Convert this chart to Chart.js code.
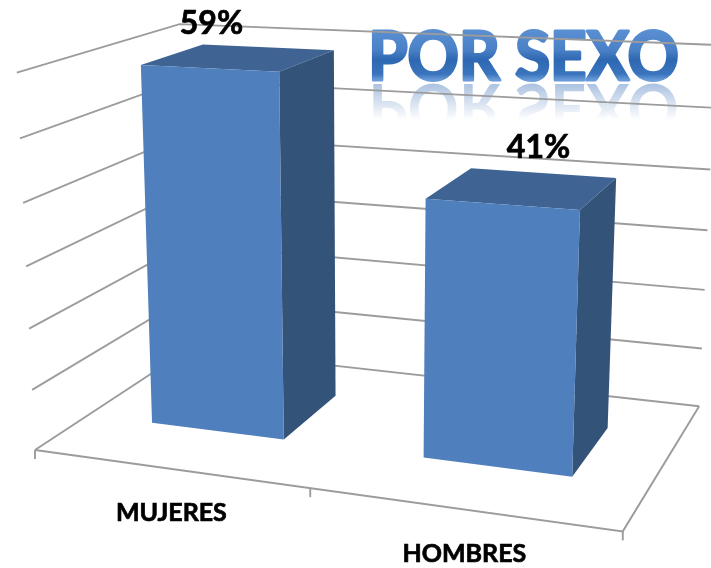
<!DOCTYPE html>
<html>
<head>
<meta charset="utf-8">
<style>
  html, body { margin: 0; padding: 0; background: #fff; }
  canvas { display: block; }
</style>
<script src="https://cdn.jsdelivr.net/npm/chart.js@4"></script>
</head>
<body>
<canvas id="chart" width="711" height="568"></canvas>
<script>
const categories = ["MUJERES", "HOMBRES"];
const porcentajes = [59, 41];
const axisMax = 60;
const axisStep = 10;
const titulo = "POR SEXO";

// perspective camera, fitted by eye to the picture: origin + vanishing points
const origin = [35, 450];
const vanishX = [-4300, -150];
const vanishY = [370, 7400];
const vanishZ = [1100, -250];
const weightX = -0.1194;
const weightY = -0.0515;
const weightZ = 0.1678;

// bars sit between these depths of the floor
const barFront = 0.318;
const barBack = 0.725;

const project = (X, Y, Z) => {
  const u = weightX * X;
  const v = weightY * Y;
  const w = weightZ * Z;
  const d = 1 + u + v + w;
  return [
    (origin[0] + u * vanishX[0] + v * vanishY[0] + w * vanishZ[0]) / d,
    (origin[1] + u * vanishX[1] + v * vanishY[1] + w * vanishZ[1]) / d,
  ];
};

const polygon = (ctx, points, color) => {
  ctx.beginPath();
  points.forEach((p, i) => (i ? ctx.lineTo(p[0], p[1]) : ctx.moveTo(p[0], p[1])));
  ctx.closePath();
  ctx.fillStyle = color;
  ctx.fill();
};

const polyline = (ctx, points) => {
  ctx.beginPath();
  points.forEach((p, i) => (i ? ctx.lineTo(p[0], p[1]) : ctx.moveTo(p[0], p[1])));
  ctx.stroke();
};

// calibri-ish bold: lato is a bit light, so thicken it with a thin stroke
const boldText = (ctx, text, x, y, font) => {
  ctx.font = font;
  ctx.fillStyle = "#000";
  ctx.strokeStyle = "#000";
  ctx.lineWidth = 0.7;
  ctx.textAlign = "center";
  ctx.textBaseline = "alphabetic";
  ctx.fillText(text, x, y);
  ctx.strokeText(text, x, y);
};

const drawTitle = (ctx) => {
  const cx = 523.5;
  const base = 80;
  const squeeze = 0.963;
  ctx.save();
  ctx.font = "bold 66px Lato";
  ctx.textAlign = "center";
  ctx.textBaseline = "alphabetic";
  ctx.lineJoin = "round";

  // reflection under the word art, text is flipped so the fade runs up in local space
  ctx.save();
  ctx.translate(cx, base + 4);
  ctx.scale(squeeze, -1);
  const fade = ctx.createLinearGradient(0, 0, 0, -36);
  fade.addColorStop(0, "rgba(90, 135, 195, 0.5)");
  fade.addColorStop(1, "rgba(90, 135, 195, 0)");
  ctx.fillStyle = fade;
  ctx.fillText(titulo, 0, 0);
  ctx.restore();

  ctx.translate(cx, base);
  ctx.scale(squeeze, 1);
  const fill = ctx.createLinearGradient(0, -50, 0, 0);
  fill.addColorStop(0, "#5a8fd2");
  fill.addColorStop(0.4, "#4a80c6");
  fill.addColorStop(0.6, "#2e68b2");
  fill.addColorStop(0.88, "#3a74bd");
  fill.addColorStop(1, "#6a9bd8");
  ctx.strokeStyle = fill;
  ctx.lineWidth = 3;
  ctx.strokeText(titulo, 0, 0);
  ctx.fillStyle = fill;
  ctx.fillText(titulo, 0, 0);
  ctx.restore();
};

const chart3d = {
  id: "chart3d",
  beforeDatasetsDraw(chart) {
    const { ctx, chartArea, scales } = chart;
    const toY = (value) => (scales.y.bottom - scales.y.getPixelForValue(value)) / scales.y.height;
    const toX = (px) => (px - chartArea.left) / chartArea.width;

    drawTitle(ctx);

    ctx.save();
    ctx.strokeStyle = "#9c9c9c";
    ctx.lineWidth = 1.9;

    // gridlines run along the left wall and then the back wall
    scales.y.ticks.forEach((tick) => {
      const Y = toY(tick.value);
      polyline(ctx, [project(0, Y, 0), project(0, Y, 1), project(1, Y, 1)]);
    });

    // floor edges
    polyline(ctx, [project(0, 0, 0), project(1, 0, 0), project(1, 0, 1)]);

    // category ticks hang off the front edge
    const edges = [chartArea.left, (chartArea.left + chartArea.right) / 2, chartArea.right];
    edges.forEach((px) => {
      const p = project(toX(px), 0, 0);
      polyline(ctx, [p, [p[0], p[1] + 9]]);
    });
    ctx.restore();
  },
  beforeDatasetDraw(chart, args) {
    const { ctx, chartArea, scales } = chart;
    const meta = args.meta;
    const toY = (px) => (scales.y.bottom - px) / scales.y.height;
    const toX = (px) => (px - chartArea.left) / chartArea.width;

    ctx.save();
    meta.data.forEach((bar, i) => {
      const x0 = toX(bar.x - bar.width / 2);
      const x1 = toX(bar.x + bar.width / 2);
      const y0 = toY(bar.base);
      const y1 = toY(bar.y);

      polygon(ctx, [project(x0, y1, barFront), project(x1, y1, barFront), project(x1, y1, barBack), project(x0, y1, barBack)], "#3f6493");
      polygon(ctx, [project(x1, y0, barFront), project(x1, y0, barBack), project(x1, y1, barBack), project(x1, y1, barFront)], "#345379");
      polygon(ctx, [project(x0, y0, barFront), project(x1, y0, barFront), project(x1, y1, barFront), project(x0, y1, barFront)], "#4f7fbc");

      // value labels float above the top face
      const mid = project(toX(bar.x), y1, barBack);
      const shift = i === 0 ? [-56, -13] : [-4, -15];
      boldText(ctx, porcentajes[i] + "%", mid[0] + shift[0], mid[1] + shift[1], "bold 32px Lato");

      // category names under the front edge
      const foot = project(toX(bar.x), 0, 0);
      boldText(ctx, categories[i], foot[0] + 3, foot[1] + 53, "bold 25px Lato");
    });
    ctx.restore();
    return false;
  },
};

new Chart(document.getElementById("chart"), {
  type: "bar",
  data: {
    labels: categories,
    datasets: [{ data: porcentajes, backgroundColor: "#4f7fbc", barPercentage: 0.5, categoryPercentage: 1 }],
  },
  options: {
    responsive: false,
    animation: false,
    layout: { padding: 0 },
    plugins: { legend: { display: false }, tooltip: { enabled: false } },
    scales: {
      x: { display: false },
      y: { display: false, min: 0, max: axisMax, ticks: { stepSize: axisStep } },
    },
  },
  plugins: [chart3d],
});
</script>
</body>
</html>
